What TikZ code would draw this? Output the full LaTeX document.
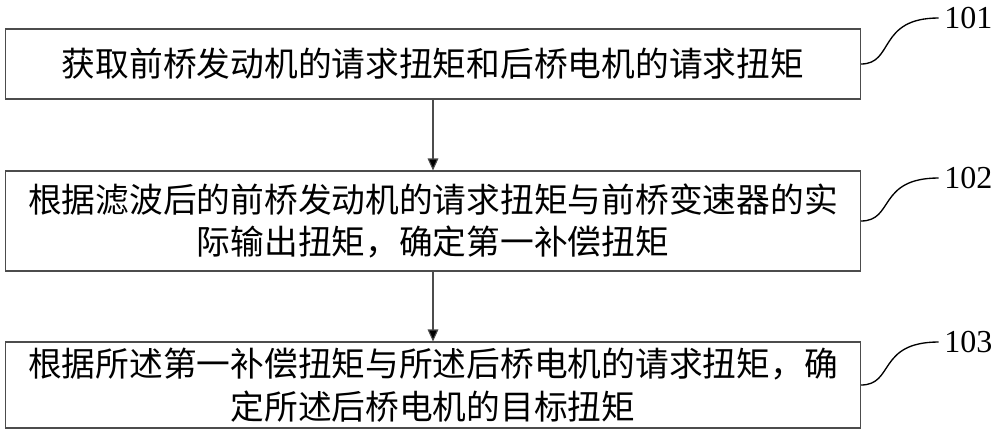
\documentclass[tikz,border=0pt]{standalone}
\usepackage{fontspec}
\setmainfont{Liberation Serif}
\newfontfamily\cjk{Noto Sans CJK SC}
\usetikzlibrary{arrows.meta}
\begin{document}
\begin{tikzpicture}[x=0.75pt,y=-0.75pt,
  stepbox/.style={draw=black!70,line width=0.8pt,minimum width=641.25pt,align=center,font=\cjk\fontsize{25.3pt}{32pt}\selectfont,inner sep=0pt},
  lbl/.style={font=\fontsize{24pt}{24pt}\selectfont,anchor=west,inner sep=0pt},
  arr/.style={draw=black!70,line width=0.8pt,-{Triangle[length=9pt,width=8pt,fill=black]}},
  sq/.style={line width=1pt}]
\useasboundingbox (0,0) rectangle (1000,444);
\node[stepbox,minimum height=52.5pt] (b1) at (433,64) {获取前桥发动机的请求扭矩和后桥电机的请求扭矩};
\node[stepbox,minimum height=75pt] (b2) at (433,221) {根据滤波后的前桥发动机的请求扭矩与前桥变速器的实\\际输出扭矩，确定第一补偿扭矩};
\node[stepbox,minimum height=64.5pt] (b3) at (433,385) {根据所述第一补偿扭矩与所述后桥电机的请求扭矩，确\\定所述后桥电机的目标扭矩};
\draw[arr] (b1.south) -- (b2.north);
\draw[arr] (b2.south) -- (b3.north);
\node[lbl] (l1) at (944,18) {101};
\node[lbl] (l2) at (944,178) {102};
\node[lbl] (l3) at (944,342) {103};
\foreach \b/\l in {b1/l1,b2/l2,b3/l3}{
  \draw[sq] (\b.east) .. controls ([xshift=25]\b.east) and ([xshift=-50]\l.west) .. ([xshift=-4]\l.west);
}
\end{tikzpicture}
\end{document}
